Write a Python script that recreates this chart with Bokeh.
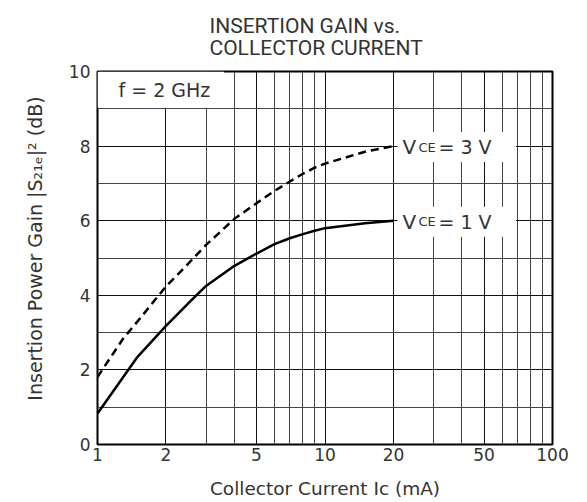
from bokeh.plotting import figure
from bokeh.models import Range1d, FixedTicker, NumeralTickFormatter, Label
from bokeh.embed import file_html
from bokeh.resources import INLINE

# ---- data ----
current_vce1 = [1, 1.5, 2, 2.5, 3, 4, 5, 6, 7, 8, 9, 10, 15, 20]
gain_vce1 = [0.83, 2.35, 3.18, 3.78, 4.25, 4.79, 5.12, 5.37, 5.53, 5.64, 5.73, 5.80, 5.93, 6.0]
current_vce3 = [1, 1.3, 1.5, 2, 2.5, 3, 4, 5, 6, 7, 8, 9, 10, 15, 20]
gain_vce3 = [1.81, 2.85, 3.3, 4.24, 4.84, 5.35, 6.05, 6.47, 6.80, 7.05, 7.26, 7.42, 7.53, 7.85, 8.0]
x_ticks = [1, 2, 5, 10, 20, 50, 100]
x_minor = [3, 4, 6, 7, 8, 9, 30, 40, 60, 70, 80, 90]
y_ticks = [0, 2, 4, 6, 8, 10]
y_minor = [1, 3, 5, 7, 9]

FONT = "DejaVu Sans"
TITLE_FONT = "Roboto"
TXT = "#333333"

p = figure(width=587, height=502, x_axis_type="log",
           x_range=Range1d(1, 100), y_range=Range1d(0, 10),
           output_backend="svg", toolbar_location=None,
           min_border_left=97, min_border_right=35,
           min_border_top=70, min_border_bottom=58,
           title="INSERTION GAIN vs.\nCOLLECTOR CURRENT")

p.title.text_font = TITLE_FONT
p.title.text_font_size = "21px"
p.title.text_font_style = "normal"
p.title.text_color = TXT
p.title.text_line_height = 0.95
p.title.align = "left"
p.title.offset = 112
p.title.standoff = 22

xt = FixedTicker(ticks=x_ticks, minor_ticks=x_minor)
yt = FixedTicker(ticks=y_ticks, minor_ticks=y_minor)
p.xaxis.ticker = xt
p.yaxis.ticker = yt
p.xgrid.ticker = xt
p.ygrid.ticker = yt
p.xaxis.formatter = NumeralTickFormatter(format="0")

for g in (p.xgrid, p.ygrid):
    g.grid_line_color = "#111111"
    g.grid_line_width = 1
    g.minor_grid_line_color = "#444444"
    g.minor_grid_line_width = 1

for ax in (p.xaxis, p.yaxis):
    ax.axis_line_color = None
    ax.major_tick_line_color = None
    ax.minor_tick_line_color = None
    ax.major_tick_out = 0
    ax.major_tick_in = 0
    ax.minor_tick_out = 0
    ax.minor_tick_in = 0
    ax.major_label_text_font = FONT
    ax.major_label_text_font_size = "17px"
    ax.major_label_text_color = TXT
    ax.axis_label_text_font = FONT
    ax.axis_label_text_font_style = "normal"
    ax.axis_label_text_color = TXT

p.xaxis.axis_label = "Collector Current I\u1d04 (mA)"
p.xaxis.axis_label_text_font_size = "18.5px"
p.xaxis.major_label_standoff = 3
p.xaxis.axis_label_standoff = 14

p.yaxis.axis_label = "\u2003Insertion Power Gain |S\u2082\u2081\u2091|\u00b2 (dB)"
p.yaxis.axis_label_text_font_size = "19px"
p.yaxis.major_label_standoff = 7
p.yaxis.axis_label_standoff = 20

p.outline_line_color = "black"
p.outline_line_width = 2
p.background_fill_color = "white"
p.border_fill_color = "white"

# white box behind the frequency note
p.quad(left=[1], right=[3.6], bottom=[9.03], top=[10], fill_color="white", line_color=None)

p.line(current_vce3, gain_vce3, line_color="black", line_width=2.5, line_dash="8 5")
p.line(current_vce1, gain_vce1, line_color="black", line_width=2.5)

p.add_layout(Label(x=1, y=9.5, x_offset=21, text="f = 2 GHz", text_baseline="middle",
                   text_font=FONT, text_font_size="19px", text_color=TXT))

def vce_label(yv, volts):
    # white backing box (white text on white) that hides the grid behind the curve label
    bg = Label(x=current_vce1[-1], y=yv, x_offset=4, y_offset=-1, text="VCE = " + volts + " VV",
               text_font=FONT, text_font_size="19px", text_color="white", text_baseline="alphabetic",
               background_fill_color="white", padding=4)
    p.add_layout(bg)
    p.add_layout(Label(x=current_vce1[-1], y=yv, x_offset=9, y_offset=-1, text="V",
                       text_font=FONT, text_font_size="20px", text_color=TXT,
                       text_baseline="alphabetic"))
    p.add_layout(Label(x=current_vce1[-1], y=yv, x_offset=25, y_offset=-1, text="CE",
                       text_font=FONT, text_font_size="13px", text_color=TXT,
                       text_baseline="alphabetic"))
    p.add_layout(Label(x=current_vce1[-1], y=yv, x_offset=45, y_offset=-1, text="= " + volts + " V",
                       text_font=FONT, text_font_size="19px", text_color=TXT,
                       text_baseline="alphabetic"))

vce_label(gain_vce3[-1], "3")
vce_label(gain_vce1[-1], "1")

open("out.html", "w").write(file_html(p, INLINE))
